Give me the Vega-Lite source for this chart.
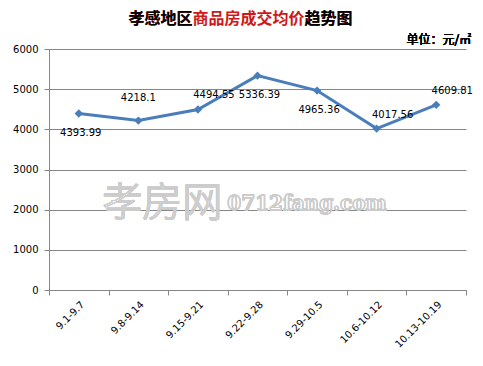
{
  "$schema": "https://vega.github.io/schema/vega-lite/v6.json",
  "width": 417,
  "height": 241,
  "autosize": {"type": "none"},
  "padding": {"left": 49, "top": 49, "right": 17, "bottom": 76},
  "background": "white",
  "title": {
    "text": "孝感地区商品房成交均价趋势图",
    "subtitle": "孝感地区　　　　　　　趋势图",
    "anchor": "middle",
    "dx": -17,
    "offset": 7,
    "font": "Noto Sans CJK SC",
    "fontSize": 16,
    "fontWeight": "bold",
    "color": "#d01818",
    "subtitleFont": "Noto Sans CJK SC",
    "subtitleFontSize": 16,
    "subtitleFontWeight": "bold",
    "subtitleColor": "#000000",
    "subtitlePadding": -16
  },
  "data": {
    "values": [
      {"week": "9.1-9.7", "price": 4393.99},
      {"week": "9.8-9.14", "price": 4218.1},
      {"week": "9.15-9.21", "price": 4494.55},
      {"week": "9.22-9.28", "price": 5336.39},
      {"week": "9.29-10.5", "price": 4965.36},
      {"week": "10.6-10.12", "price": 4017.56},
      {"week": "10.13-10.19", "price": 4609.81}
    ]
  },
  "encoding": {
    "x": {
      "field": "week",
      "type": "nominal",
      "sort": null,
      "scale": {"type": "band", "paddingInner": 0, "paddingOuter": 0, "domain": ["9.1-9.7", "9.8-9.14", "9.15-9.21", "9.22-9.28", "9.29-10.5", "10.6-10.12", "10.13-10.19"]},
      "axis": {
        "title": null,
        "labelAngle": -45,
        "labelFont": "DejaVu Sans",
        "labelFontSize": 10,
        "labelColor": "#000000",
        "labelPadding": 4,
        "domainColor": "#868686",
        "tickColor": "#868686",
        "tickSize": 5,
        "tickBand": "extent",
        "grid": false
      }
    },
    "y": {
      "field": "price",
      "type": "quantitative",
      "scale": {"domain": [0, 6000], "nice": false},
      "axis": {
        "title": null,
        "values": [0, 1000, 2000, 3000, 4000, 5000, 6000],
        "format": "d",
        "labelFont": "DejaVu Sans",
        "labelFontSize": 10,
        "labelColor": "#000000",
        "labelPadding": 6,
        "domainColor": "#868686",
        "tickColor": "#868686",
        "tickSize": 5,
        "grid": true,
        "gridColor": "#868686"
      }
    }
  },
  "layer": [
    {
      "mark": {"type": "text", "text": "孝房网", "font": "Noto Sans CJK SC", "fontSize": 40, "fontWeight": 300, "fill": "transparent", "stroke": "#cccccc", "strokeWidth": 0.8, "align": "center", "baseline": "middle", "dx": 24},
      "encoding": {"x": {"datum": "9.8-9.14"}, "y": {"datum": 2150}}
    },
    {
      "mark": {"type": "text", "text": "0712fang.com", "font": "DejaVu Serif", "fontSize": 20, "fontWeight": "bold", "fill": "transparent", "stroke": "#cccccc", "strokeWidth": 0.8, "align": "center", "baseline": "middle", "dx": -10},
      "encoding": {"x": {"datum": "9.29-10.5"}, "y": {"datum": 2150}}
    },
    {
      "mark": {"type": "line", "color": "#4a7ebb", "strokeWidth": 3}
    },
    {
      "mark": {"type": "point", "shape": "diamond", "filled": true, "color": "#4a7ebb", "size": 70, "opacity": 1}
    },
    {
      "transform": [{"filter": {"field": "week", "oneOf": ["9.1-9.7", "9.22-9.28", "9.29-10.5"]}}],
      "mark": {"type": "text", "font": "DejaVu Sans", "fontSize": 10, "color": "#000000", "dx": 2, "dy": 19},
      "encoding": {"text": {"field": "price", "type": "nominal"}}
    },
    {
      "transform": [{"filter": {"field": "week", "oneOf": ["9.8-9.14"]}}],
      "mark": {"type": "text", "font": "DejaVu Sans", "fontSize": 10, "color": "#000000", "dx": 0, "dy": -23},
      "encoding": {"text": {"field": "price", "type": "nominal"}}
    },
    {
      "transform": [{"filter": {"field": "week", "oneOf": ["9.15-9.21", "10.6-10.12", "10.13-10.19"]}}],
      "mark": {"type": "text", "font": "DejaVu Sans", "fontSize": 10, "color": "#000000", "dx": 16, "dy": -14},
      "encoding": {"text": {"field": "price", "type": "nominal"}}
    },
    {
      "mark": {"type": "text", "text": "单位：元/㎡", "font": "Noto Sans CJK SC", "fontSize": 12, "color": "#000000", "align": "right", "baseline": "bottom", "dx": 35, "dy": -2},
      "encoding": {"x": {"datum": "10.13-10.19"}, "y": {"datum": 6000}}
    }
  ],
  "config": {"view": {"stroke": null}}
}
